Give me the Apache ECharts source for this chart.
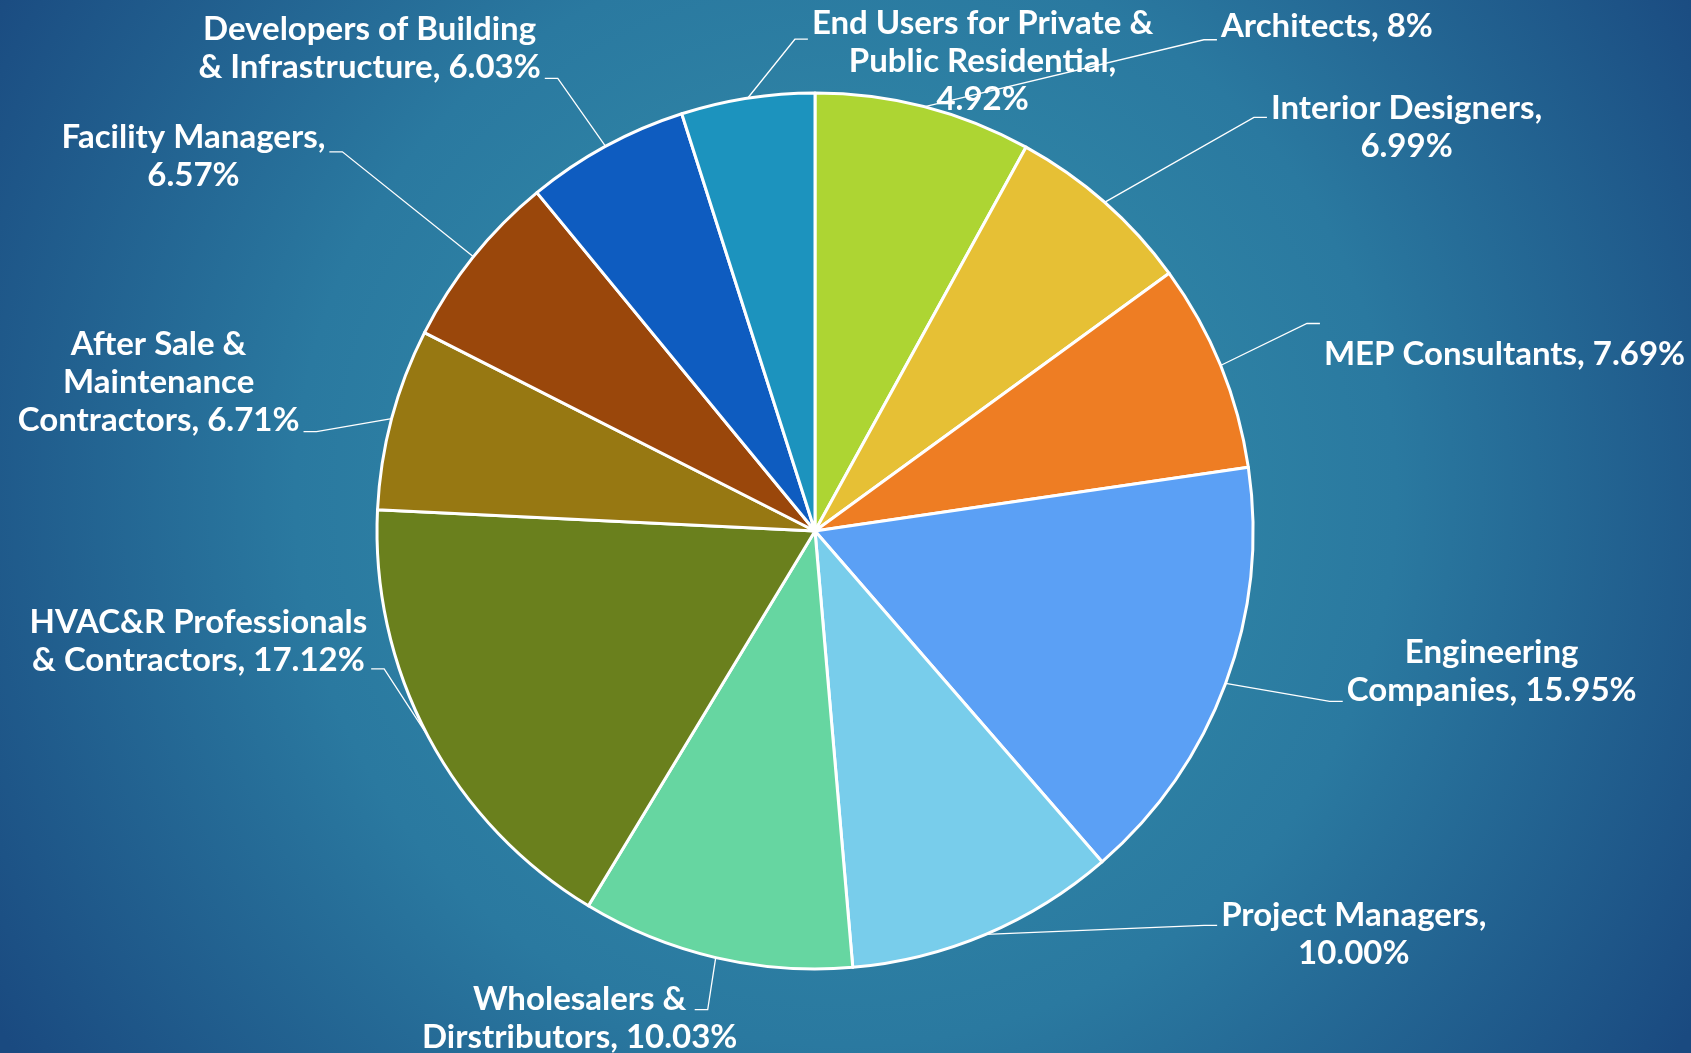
<!DOCTYPE html>
<html>
<head>
<meta charset="utf-8">
<script src="https://cdn.jsdelivr.net/npm/echarts@6/dist/echarts.min.js"></script>
<style>
html,body{margin:0;padding:0;width:100%;height:100%;overflow:hidden;background:#1c4d82;}
#chart{width:1691px;height:1053px;}
</style>
</head>
<body>
<div id="chart"></div>
<script>
// ---- data ----
var categories = [
  'Architects', 'Interior Designers', 'MEP Consultants', 'Engineering Companies',
  'Project Managers', 'Wholesalers & Dirstributors', 'HVAC&R Professionals & Contractors',
  'After Sale & Maintenance Contractors', 'Facility Managers',
  'Developers of Building & Infrastructure', 'End Users for Private & Public Residential'
];
var values = [8, 6.99, 7.69, 15.95, 10.00, 10.03, 17.12, 6.71, 6.57, 6.03, 4.92];
var valueText = ['8', '6.99', '7.69', '15.95', '10.00', '10.03', '17.12', '6.71', '6.57', '6.03', '4.92'];
// label text as wrapped in the reference
var labelText = [
  'Architects, 8%',
  'Interior Designers,\n6.99%',
  'MEP Consultants, 7.69%',
  'Engineering\nCompanies, 15.95%',
  'Project Managers,\n10.00%',
  'Wholesalers &\nDirstributors, 10.03%',
  'HVAC&R Professionals\n& Contractors, 17.12%',
  'After Sale &\nMaintenance\nContractors, 6.71%',
  'Facility Managers,\n6.57%',
  'Developers of Building\n& Infrastructure, 6.03%',
  'End Users for Private &\nPublic Residential,\n4.92%'
];

// ---- styles ----
var colors = ['#add533', '#e6c035', '#ee7d23', '#5ba0f5', '#78cdeb', '#66d6a1',
              '#6a801d', '#977812', '#9a470b', '#0e5cc0', '#1c93be'];
// label placement relative to the slice's outer anchor point (px)
var labelPlace = [
  {dx: 403, dy: -80, ly: 13},
  {dx: 302, dy: -75, ly: -10},
  {dx: 284, dy: -11, ly: -31},
  {dx: 266, dy: -12, ly: 30},
  {dx: 368, dy: 0, ly: -9},
  {dx: -136, dy: 61, ly: -9, lx: 115},
  {dx: -230, dy: -95, ly: 27},
  {dx: -233, dy: -36, ly: 49},
  {dx: -280, dy: -100, ly: -5},
  {dx: -236, dy: -98, ly: 30},
  {dx: 235, dy: -37, ly: -22}
];

var chart = echarts.init(document.getElementById('chart'));
var seriesData = categories.map(function (c, i) {
  return { name: c, value: values[i], itemStyle: { color: colors[i] } };
});

var option = {
  backgroundColor: {
    type: 'radial', x: 0.5, y: 0.47, r: 0.95,
    colorStops: [
      { offset: 0, color: '#3593ad' },
      { offset: 0.55, color: '#2a79a0' },
      { offset: 1, color: '#1a4a80' }
    ]
  },
  animation: false,
  series: [{
    type: 'pie',
    center: ['815px', '531px'],
    radius: 438,
    startAngle: 90,
    clockwise: true,
    avoidLabelOverlap: false,
    data: seriesData,
    itemStyle: { borderColor: '#ffffff', borderWidth: 3 },
    label: {
      show: true,
      position: 'outside',
      color: '#ffffff',
      fontFamily: 'Lato',
      fontWeight: 'bold',
      fontSize: 33,
      lineHeight: 38,
      formatter: function (p) { return labelText[p.dataIndex]; }
    },
    labelLine: {
      show: true, length: 20, length2: 12,
      lineStyle: { color: '#ffffff', width: 1.3 }
    },
    labelLayout: function (p) {
      var i = p.dataIndex;
      var cfg = labelPlace[i];
      var a = p.labelLinePoints && p.labelLinePoints[0];
      if (!a) { return {}; }
      var w = p.labelRect.width;
      var cx = a[0] + cfg.dx, cy = a[1] + cfg.dy;
      var onRight = cx > a[0];
      var ex = cfg.lx != null ? cx + cfg.lx : (onRight ? cx - w / 2 - 4 : cx + w / 2 + 4);
      var ey = cy + cfg.ly;
      var mx = onRight ? ex - 13 : ex + 13;
      return {
        x: cx, y: cy, align: 'center', verticalAlign: 'middle',
        labelLinePoints: [[a[0], a[1]], [mx, ey], [ex, ey]]
      };
    }
  }]
};
chart.setOption(option);
</script>
</body>
</html>
